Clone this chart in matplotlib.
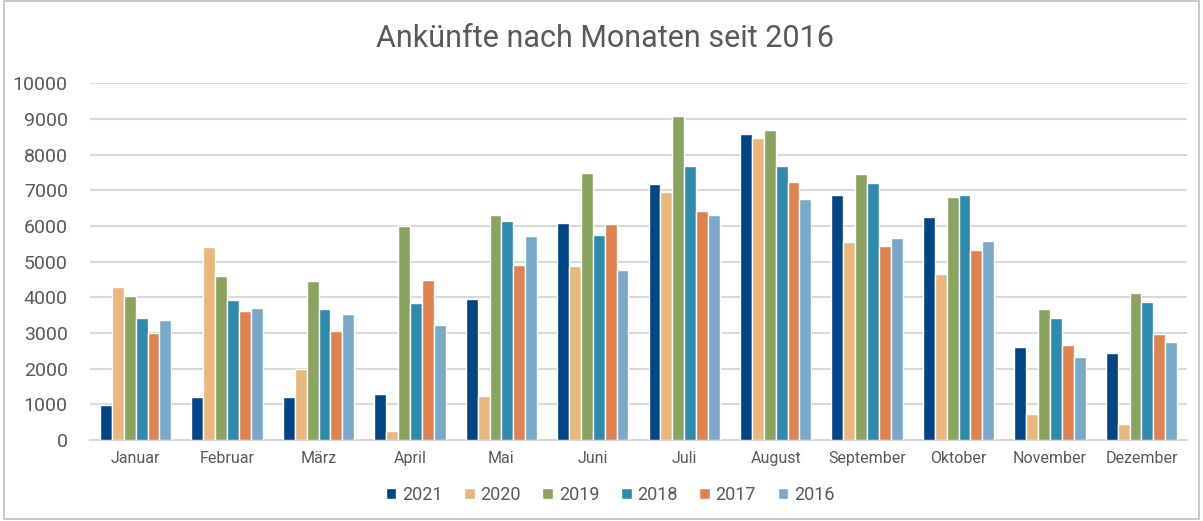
import matplotlib.pyplot as plt
import numpy as np
from matplotlib.patches import Rectangle

plt.rcParams['font.family'] = ['Roboto', 'DejaVu Sans']

monate = ['Januar', 'Februar', 'März', 'April', 'Mai', 'Juni', 'Juli',
          'August', 'September', 'Oktober', 'November', 'Dezember']
jahre = ['2021', '2020', '2019', '2018', '2017', '2016']

# Ankünfte je Monat
w2021 = [980, 1210, 1210, 1290, 3950, 6080, 7190, 8590, 6880, 6240, 2620, 2450]
w2020 = [4300, 5410, 1980, 250, 1220, 4870, 6960, 8480, 5560, 4660, 720, 440]
w2019 = [4040, 4590, 4450, 6000, 6320, 7480, 9090, 8680, 7450, 6810, 3680, 4130]
w2018 = [3430, 3930, 3670, 3850, 6150, 5750, 7690, 7670, 7220, 6880, 3430, 3880]
w2017 = [3000, 3620, 3070, 4480, 4920, 6060, 6410, 7240, 5440, 5320, 2660, 2960]
w2016 = [3360, 3690, 3530, 3220, 5720, 4780, 6320, 6770, 5670, 5580, 2340, 2740]
werte = [w2021, w2020, w2019, w2018, w2017, w2016]

farben = ['#004586', '#E9B67D', '#8AA35F', '#2E8BAE', '#E08150', '#7AA8C8']

fig = plt.figure(figsize=(12.03, 5.21), dpi=100)
ax = fig.add_axes([0.0748, 0.1555, 0.912, 0.6845])

x = np.arange(len(monate))
bw = 0.13
for i, (jahr, w) in enumerate(zip(jahre, werte)):
    ax.bar(x + (i - 2.5) * bw, w, width=bw, color=farben[i],
           edgecolor='white', linewidth=1.0, label=jahr, zorder=3)

ax.set_xlim(-0.5, 11.5)
ax.set_ylim(0, 10000)
ax.set_yticks(range(0, 10001, 1000))
ax.set_xticks(x)
ax.set_xticklabels(monate, fontsize=11.5, color='#595959')
ax.tick_params(axis='y', labelsize=14, labelcolor='#595959', length=0, pad=16)
ax.tick_params(axis='x', length=0, pad=8)
ax.grid(axis='y', color='#D9D9D9', linewidth=1.5, zorder=0)
for s in ['top', 'right', 'left']:
    ax.spines[s].set_visible(False)
ax.spines['bottom'].set_color('#D9D9D9')
ax.spines['bottom'].set_linewidth(1.5)

fig.text(0.503, 0.927, 'Ankünfte nach Monaten seit 2016', ha='center', va='center',
         fontsize=22, color='#595959')

fig.legend(loc='center', bbox_to_anchor=(0.507, 0.05), ncol=6, frameon=False,
           fontsize=13, handlelength=0.6, handleheight=0.6, handletextpad=0.3,
           columnspacing=1.2, labelcolor='#595959')

fig.patches.append(Rectangle((0.003, 0.004), 0.994, 0.994, transform=fig.transFigure,
                             fill=False, edgecolor='#BFBFBF', linewidth=1.2))

fig.savefig('out.png', dpi=100)
